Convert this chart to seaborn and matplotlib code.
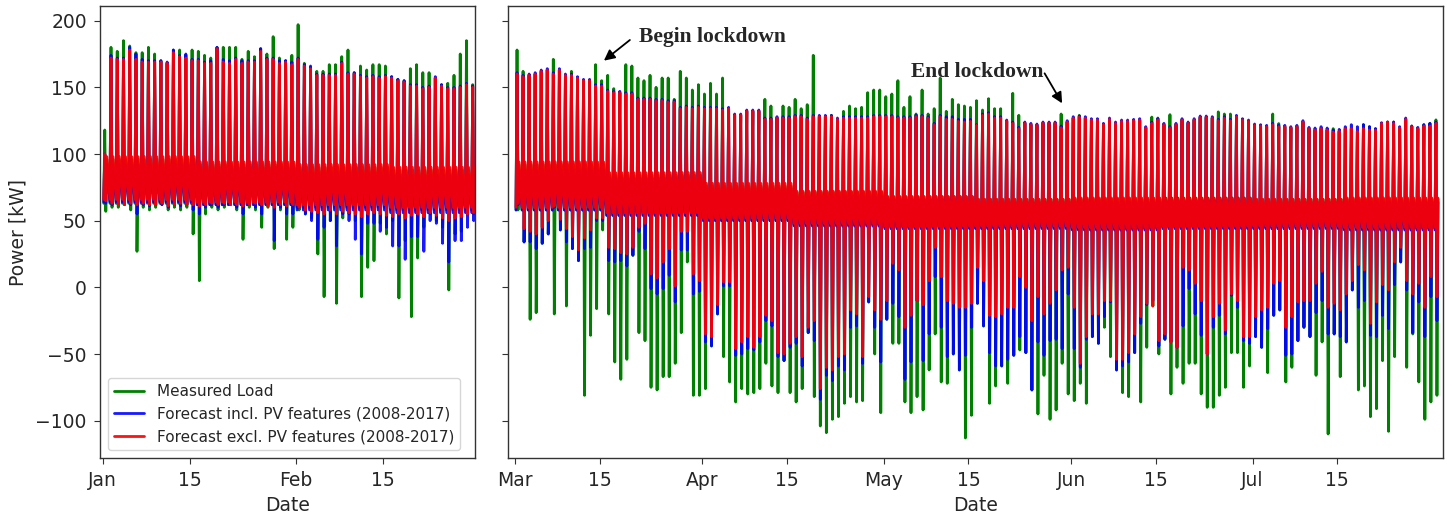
import pandas as pd
import matplotlib
matplotlib.use("Agg")
import matplotlib.pyplot as plt
import seaborn as sns

sns.set_style("ticks")
plt.rcParams["font.family"] = ["DejaVu Sans"]

# ---------------- data (daily peak / daily dip, kW) ----------------
series_names = ["Measured Load",
                "Forecast incl. PV features (2008-2017)",
                "Forecast excl. PV features (2008-2017)"]
series_colors = ["green", "blue", "red"]

left_start = "2020-01-01"
right_start = "2020-03-01"

# Jan + Feb (60 days)
left_measured_peak = [118, 180, 177, 185, 181, 176, 176, 180, 175, 170, 168, 178, 178, 174, 178, 177, 174, 172, 180, 180,
                      180, 180, 171, 177, 173, 179, 175, 188, 172, 170, 174,
                      197, 168, 165, 162, 162, 167, 167, 173, 178, 161, 166, 163, 167, 167, 166, 158, 156, 155, 164,
                      167, 161, 161, 157, 152, 153, 159, 175, 185, 152]
left_incl_peak = [100, 174, 172, 172, 180, 175, 171, 170, 170, 170, 169, 178, 174, 175, 171, 171, 169, 170, 180, 171,
                  170, 172, 170, 170, 170, 179, 172, 172, 170, 170, 169,
                  172, 167, 166, 160, 160, 160, 160, 169, 161, 161, 159, 158, 159, 158, 159, 158, 156, 155, 152,
                  152, 150, 151, 158, 152, 150, 150, 151, 153, 151]
left_excl_peak = [100, 172, 171, 171, 178, 171, 169, 169, 169, 169, 168, 176, 173, 172, 170, 170, 168, 168, 179, 169,
                  168, 171, 168, 169, 169, 177, 171, 171, 168, 169, 167,
                  171, 166, 164, 159, 159, 159, 159, 168, 160, 160, 158, 157, 158, 157, 158, 157, 155, 154, 151,
                  151, 149, 150, 157, 151, 149, 149, 150, 152, 150]
left_measured_dip = [57, 60, 60, 62, 58, 27, 60, 58, 60, 62, 58, 60, 58, 60, 40, 5, 55, 60, 58, 60,
                     62, 58, 36, 60, 58, 45, 60, 29, 58, 36, 45,
                     58, 55, 52, 25, -7, 50, -12, 52, 55, 50, -7, 15, 20, 48, 40, 50, -8, 35, -22,
                     22, 45, 55, 50, 45, -2, 40, 42, 55, 55]
left_incl_dip = [63, 62, 63, 62, 62, 55, 62, 61, 62, 62, 60, 62, 61, 62, 58, 55, 60, 62, 60, 62,
                 62, 60, 55, 62, 60, 55, 62, 35, 60, 55, 55,
                 60, 55, 50, 36, 45, 50, 31, 55, 50, 36, 25, 48, 48, 42, 45, 31, 31, 21, 38,
                 38, 27, 50, 48, 33, 19, 35, 35, 45, 50]
left_excl_dip = [65, 63, 62, 62, 63, 62, 63, 62, 62, 63, 61, 62, 63, 62, 62, 61, 62, 63, 62, 63,
                 62, 62, 61, 62, 63, 62, 61, 60, 62, 61, 62,
                 60, 58, 57, 56, 55, 58, 55, 57, 56, 55, 53, 55, 56, 55, 54, 53, 55, 52, 54,
                 55, 53, 56, 54, 52, 50, 52, 53, 55, 56]
# half-month evening / night levels (Jan 1-15, Jan 16-31, Feb 1-15, Feb 16-29)
left_measured_evening = [96, 92, 90, 88]
left_measured_night = [63, 62, 60, 58]
left_incl_evening = [92, 90, 86, 84]
left_incl_night = [64, 62, 58, 56]
left_excl_evening = [98, 94, 92, 90]
left_excl_night = [66, 64, 62, 60]

# Mar .. Jul (153 days)
right_measured_peak = [178, 162, 159, 160, 162, 163, 171, 163, 159, 162, 157, 155, 155, 167, 155, 159, 149, 146, 167, 166,
                       157, 155, 159, 150, 157, 157, 141, 162, 157, 148, 152, 145, 153, 145, 157, 134, 129, 129, 132, 132,
                       132, 141, 136, 127, 136, 135, 141, 134, 137, 174, 128, 128, 129, 126, 132, 136, 134, 135, 146, 148,
                       148, 143, 145, 155, 135, 143, 130, 148, 130, 134, 157,
                       132, 141, 137, 136, 135, 140, 133, 141.5, 134, 134, 124.5, 145.5, 129, 123, 122, 121.5, 123, 123, 123, 130,
                       124, 127, 129, 127, 125.6, 125.6, 122, 126, 123, 124.5, 124.5, 125, 125.6, 119.7, 127.7, 127, 122, 129.5, 122, 125.6,
                       123, 125.6, 127.5, 127.5, 127, 131.6, 130, 130, 128, 125.6, 124.5, 121.5, 121, 120.5, 130, 122.8, 120.5, 119.7, 120.5, 124,
                       119, 118, 119, 118, 119, 117, 119, 119, 117, 122, 120.5, 119, 123, 124, 124, 119.7, 126, 121, 119, 122,
                       123, 125.6]
right_incl_peak = [161, 159, 160, 161, 163, 164, 161, 164, 160, 160, 158, 156, 156, 152, 152, 148, 147, 147, 146, 146,
                   142, 142, 142, 141, 141, 140, 140, 135, 136, 135, 136, 135, 135, 135, 134, 135, 130, 130, 133, 133,
                   133, 127, 127, 128, 128, 128, 129, 129, 127, 129, 129, 129, 129, 127, 128, 128, 128, 128, 128, 129,
                   129, 129, 129, 128, 128, 128, 129, 129, 128, 123, 129,
                   128, 128, 126, 126, 126, 122, 130, 131, 128, 128, 125.5, 124, 120, 124, 123, 122.5, 124, 124, 124, 121,
                   125, 128, 128.5, 128, 126.5, 126.5, 123, 127, 124, 125.5, 125.5, 126, 126.5, 120.5, 124, 126.5, 123, 120.5, 123, 126.5,
                   124, 126.5, 128.5, 128.5, 128, 126, 128, 126, 129, 126.5, 125.5, 122.5, 122, 121.5, 123, 121.5, 121.5, 120.5, 121.5, 125,
                   120, 119.5, 120.5, 119.5, 118, 118.5, 120.5, 122, 120.5, 122, 120.5, 119, 123.5, 124, 124, 120.5, 127, 121, 120, 122,
                   123, 124]
right_excl_peak = [160, 158, 159, 160, 162, 163, 160, 163, 159, 159, 157, 155, 155, 151, 151, 147, 146, 146, 145, 145,
                   141, 141, 141, 140, 140, 139, 139, 134, 135, 134, 135, 134, 134, 134, 133, 134, 129, 129, 132, 132,
                   132, 126, 126, 127, 127, 127, 128, 128, 126, 128, 128, 128, 128, 126, 127, 127, 127, 127, 127, 128,
                   128, 128, 128, 127, 127, 127, 128, 128, 127, 122, 128,
                   126, 126, 124.5, 124, 124.5, 121.5, 129, 130, 127, 127, 124.5, 123, 119, 123, 122, 121.5, 123, 123, 123, 119.7,
                   124, 127, 127.7, 127, 125.6, 125.6, 122, 126, 123, 124.5, 124.5, 125, 125.6, 119.7, 123, 125.6, 122, 119.7, 122, 125.6,
                   123, 125.6, 127.5, 127.5, 127, 125, 127, 125, 128, 125.6, 124.5, 121.5, 121, 120.5, 122, 120.5, 120.5, 119.7, 120.5, 124,
                   119, 118, 119, 118, 116.5, 117, 119, 119, 117, 119, 118, 118, 123, 124, 123, 119.7, 126, 120.5, 119, 121,
                   121, 123]
right_measured_dip = [58, 34, -24, -19, 33, 40, -20, 43, -14, 29, 20, -81, -36, -16, 43, -20, -56, -69, -54, 24,
                      -34, -40, -75, -77, -67, -67, -57, -34, 19, -81, -81, -76, -44, -20, -52, -71, -86, -76, -80, -79,
                      -76, -57, -74, -79, -55, -79, -86, -76, -34, -82, -104, -109, -99, -97, -87, -82, -86, -85, -11, -50,
                      -94, -24, -42, -42, -86, -94, -82, -92, -62, -35, -71,
                      -72, -50, -62, -113, -96, -12, -29, -87, -74, -59, -72, -51, -47, -49, -77, -95, -66, -99, -92, -57,
                      -80, -85, -72, -87, -37, -42, -30, -52, -62, -79, -82, -49, -86, -45, -14, -50, -39, -80, -60, -72,
                      -57, -57, -80, -90, -90, -81, -75, -49, -49, -75, -59, -37, -45, -64, -21, -17, -71, -60, -40, -30,
                      -37, -66, -41, -110, -35, -67, -41, -2, -77, -74, -97, -91, -55, -108, -52, 19, -60, -35, -71, -99,
                      -86, -81]
right_incl_dip = [62, 34, 34, 29, 33, 40, 60, 43, 34, 29, 20, 29, 30, 50, 50, 20, 19, 20, 16, 24,
                  42, 29, -1, -5, -1, 9, -11, 28, 28, -5, -3, -41, -44, -20, 1, 1, -51, -50, -46, -47,
                  -41, -25, -29, -52, -55, -45, -42, -59, -34, -40, -84, -66, -70, -59, -62, -30, -29, -57, -11, -30,
                  -56, -24, -12, -22, -69, -56, -10, -55, -35, 8, -30,
                  -52, -50, -62, -51, -30, -12, -29, -49, -59, -59, -54, -51, -37, -49, -77, -41, -51, -40, -39, -46,
                  -5, -46, -60, -39, -37, -42, -22, -11, -62, -59, -56, -49, -27, -13, -10, -44, -39, -41, -45, -29,
                  -1, -20, -36, -50, -30, -21, -35, -6, -15, -40, -42, -37, -45, -31, -21, -17, -51, -50, -40, -30,
                  -37, -19, -10, -35, -35, -37, -41, -2, -15, -10, -36, -37, -21, -31, 2, 19, -2, -34, -11, -37,
                  -7, -25]
right_excl_dip = [63, 44, 42, 40, 45, 50, 61, 51, 44, 38, 28, 37, 43, 52, 52, 30, 29, 26, 25, 30,
                  45, 48, 10, 7, 19, 29, 1, 42, 42, 10, 5, -35, -37, -13, 4, 4, -46, -41, -37, -45,
                  -37, -21, -25, -49, -50, -42, -37, -52, -30, -25, -76, -60, -62, -52, -50, -17, -20, -52, -7, -17,
                  -24, -10, 18, 13, -30, -21, -10, -13, 5, 30, 8,
                  -10, -12, -15, -15, -12, 15, 5, -21, -22, -20, -15, -15, 8, 0, -25, -7, -20, -12, -2, 13,
                  15, -15, -57, -37, -20, -20, -10, -10, -54, -54, -49, -35, -22, -12, -14, -40, -35, -41, -45, 15,
                  13, 3, -10, -50, -22, -12, -32, -5, -10, -37, -37, -22, -17, -15, 3, 5, -30, -22, -11, -10,
                  -10, 3, 12, -15, -12, -17, -5, 5, 17, 13, -27, -11, 2, -2, 19, 30, 5, -5, 3, -15,
                  8, -7]
# half-month evening / night levels (Mar 1-15, Mar 16-31, ..., Jul 16-31)
right_measured_evening = [92, 84, 76, 71, 68, 66, 66, 67, 66, 66]
right_measured_night = [58, 54, 50, 47, 45, 45, 44, 45, 45, 44]
right_incl_evening = [88, 82, 74, 68, 66, 64, 64, 65, 64, 64]
right_incl_night = [58, 54, 50, 46, 44, 44, 43, 44, 44, 43]
right_excl_evening = [94, 86, 78, 72, 68, 66, 67, 66, 66, 67]
right_excl_night = [60, 56, 52, 48, 46, 46, 45, 46, 46, 45]

left_ticks = ["2020-01-01", "2020-01-15", "2020-02-01", "2020-02-15"]
left_ticklabels = ["Jan", "15", "Feb", "15"]
right_ticks = ["2020-03-01", "2020-03-15", "2020-04-01", "2020-04-15", "2020-05-01",
               "2020-05-15", "2020-06-01", "2020-06-15", "2020-07-01", "2020-07-15"]
right_ticklabels = ["Mar", "15", "Apr", "15", "May", "15", "Jun", "15", "Jul", "15"]


def day_series(start, peaks, dips, evening, night):
    """Assemble read values into a time series: night, peak, dip, evening per day."""
    days = pd.date_range(start, periods=len(peaks), freq="D")
    m0 = days[0].month
    times, vals = [], []
    for d, p, q in zip(days, peaks, dips):
        k = (d.month - m0) * 2 + (1 if d.day > 15 else 0)
        times += [d + pd.Timedelta(hours=4), d + pd.Timedelta(hours=8),
                  d + pd.Timedelta(hours=12), d + pd.Timedelta(hours=16)]
        vals += [night[k], p, q, evening[k]]
    return pd.DataFrame({"Date": times, "Power": vals})


left_data = [day_series(left_start, left_measured_peak, left_measured_dip, left_measured_evening, left_measured_night),
             day_series(left_start, left_incl_peak, left_incl_dip, left_incl_evening, left_incl_night),
             day_series(left_start, left_excl_peak, left_excl_dip, left_excl_evening, left_excl_night)]
right_data = [day_series(right_start, right_measured_peak, right_measured_dip, right_measured_evening, right_measured_night),
              day_series(right_start, right_incl_peak, right_incl_dip, right_incl_evening, right_incl_night),
              day_series(right_start, right_excl_peak, right_excl_dip, right_excl_evening, right_excl_night)]

# ---------------- figure ----------------
W, H = 1456, 513
fig = plt.figure(figsize=(W / 100, H / 100), dpi=100)
ax1 = fig.add_axes([100 / W, 1 - 458 / H, 375 / W, 452 / H])
ax2 = fig.add_axes([508 / W, 1 - 458 / H, 935 / W, 452 / H], sharey=ax1)

alphas = [1.0, 0.9, 0.93]
for df, name, col, a in zip(left_data, series_names, series_colors, alphas):
    sns.lineplot(data=df, x="Date", y="Power", ax=ax1, color=col, alpha=a,
                 linewidth=2.0, label=name, estimator=None, sort=False)
for df, name, col, a in zip(right_data, series_names, series_colors, alphas):
    sns.lineplot(data=df, x="Date", y="Power", ax=ax2, color=col, alpha=a,
                 linewidth=2.0, legend=False, estimator=None, sort=False)

ax1.set_ylim(-128, 211)
ax1.set_yticks([-100, -50, 0, 50, 100, 150, 200])
l0 = pd.Timestamp(left_start)
r0 = pd.Timestamp(right_start)
ax1.set_xlim(l0 - pd.Timedelta(days=0.43), l0 + pd.Timedelta(days=59.7))
ax2.set_xlim(r0 - pd.Timedelta(days=1.16), r0 + pd.Timedelta(days=153.5))
ax1.set_xticks([pd.Timestamp(t) for t in left_ticks])
ax1.set_xticklabels(left_ticklabels)
ax2.set_xticks([pd.Timestamp(t) for t in right_ticks])
ax2.set_xticklabels(right_ticklabels)

for ax in (ax1, ax2):
    ax.tick_params(labelsize=13.5, pad=5, length=4.5, color="#333333")
    ax.set_xlabel("Date", fontsize=13.5)
    for s in ax.spines.values():
        s.set_color("#333333")
        s.set_linewidth(1.0)
ax2.tick_params(labelleft=False)
ax2.set_ylabel("")
ax1.set_ylabel("Power [kW]", fontsize=13.5, labelpad=6)

ax1.legend(loc="lower left", fontsize=11, framealpha=0.8)

# annotations
anno_font = dict(family=["Liberation Serif"], weight="bold", size=15.5)
ax2.text(r0 + pd.Timedelta(days=20.5), 184.3, "Begin lockdown", ha="left", va="baseline", **anno_font)
ax2.annotate("", xy=(r0 + pd.Timedelta(days=14.7), 170), xytext=(r0 + pd.Timedelta(days=19.0), 185.5),
             arrowprops=dict(arrowstyle="-|>", color="black", lw=1.3, mutation_scale=16,
                             shrinkA=0, shrinkB=0))
ax2.text(r0 + pd.Timedelta(days=65.5), 158, "End lockdown", ha="left", va="baseline", **anno_font)
ax2.annotate("", xy=(r0 + pd.Timedelta(days=90.5), 138), xytext=(r0 + pd.Timedelta(days=87.6), 160.5),
             arrowprops=dict(arrowstyle="-|>", color="black", lw=1.3, mutation_scale=16,
                             shrinkA=0, shrinkB=0))

fig.savefig("out.png", dpi=100)
